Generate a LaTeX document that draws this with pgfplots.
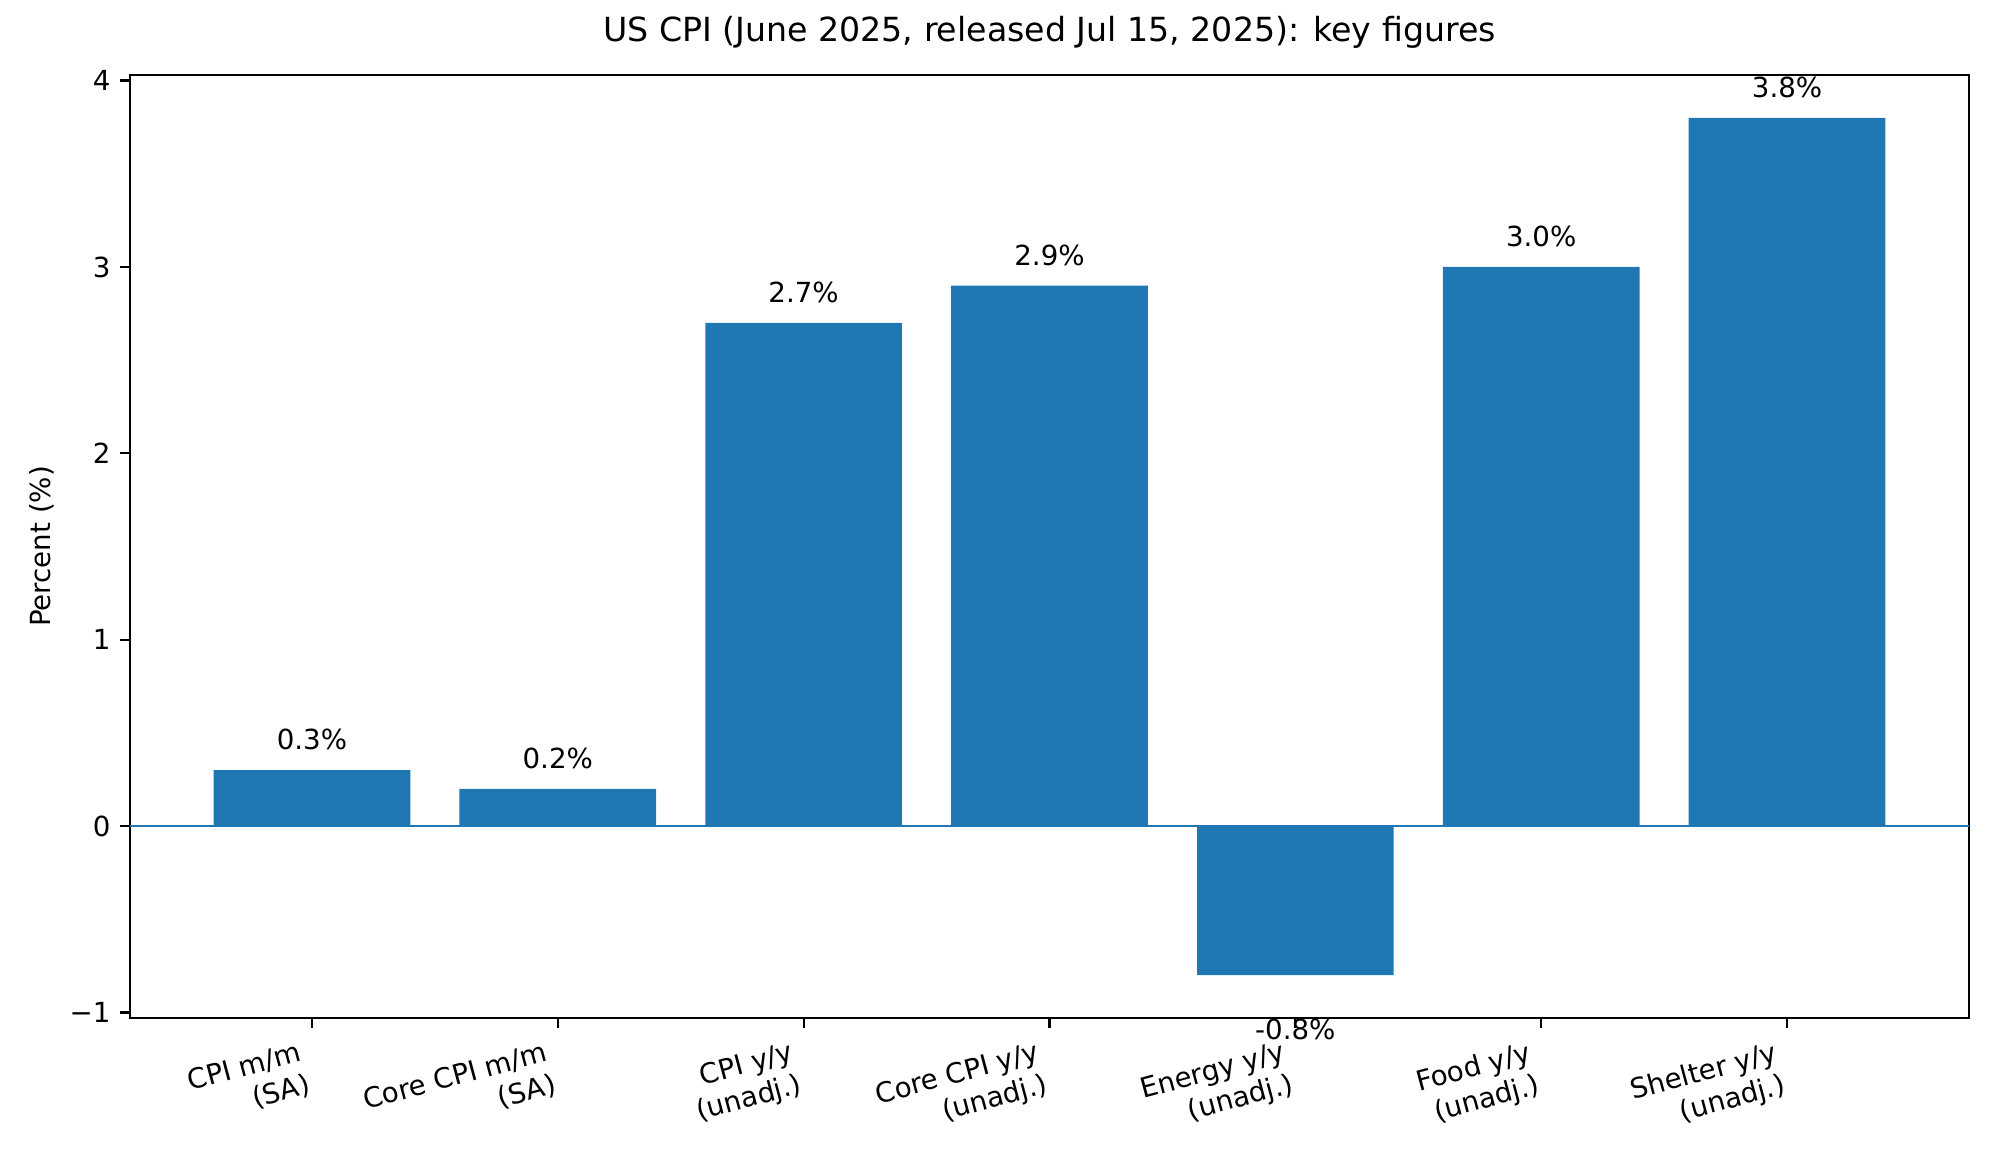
\documentclass[border=0pt]{standalone}
\usepackage{fontspec}
\setmainfont{DejaVu Sans}
\usepackage{pgfplots}
\pgfplotsset{compat=1.18}
\definecolor{C0}{RGB}{31,119,180}
\begin{document}
\fontsize{10}{12}\selectfont
\begin{tikzpicture}
\path[use as bounding box] (0,0) rectangle (10in,5.8in);
\begin{axis}[
  at={(0.65in,0.71in)}, anchor=south west,
  scale only axis, width=9.195in, height=4.715in,
  xmin=-0.74, xmax=6.74, ymin=-1.03, ymax=4.03,
  axis line style={line width=0.8pt},
  tick align=outside, tick pos=left,
  major tick length=3.5pt,
  every tick/.style={black, line width=0.8pt},
  ytick={-1,0,1,2,3,4},
  yticklabels={−1,0,1,2,3,4},
  xtick={0,1,2,3,4,5,6},
  xticklabels={{CPI m/m\\(SA)},{Core CPI m/m\\(SA)},{CPI y/y\\(unadj.)},{Core CPI y/y\\(unadj.)},{Energy y/y\\(unadj.)},{Food y/y\\(unadj.)},{Shelter y/y\\(unadj.)}},
  ticklabel style={font=\fontsize{10}{12}\selectfont},
  xticklabel style={anchor=north east, align=right, xshift=-5pt, yshift=-4.5pt, rotate=15, inner sep=0pt},
  title={US CPI (June 2025, released Jul 15, 2025): key figures},
  title style={font=\fontsize{12}{14.4}\selectfont, at={(axis description cs:0.5,1)}, anchor=base, yshift=6pt, inner sep=0pt},
  ylabel={Percent (\%)},
  ylabel style={font=\fontsize{10}{12}\selectfont, at={(axis description cs:-0.0479,0.5)}, anchor=center},
  clip=false,
]
\addplot[ybar, bar width=0.8, fill=C0, draw=none] coordinates {
(0,0.3) (1,0.2) (2,2.7) (3,2.9) (4,-0.8) (5,3.0) (6,3.8)};
\addplot[C0, line width=1pt] coordinates {(-0.74,0) (6.74,0)};
\addplot[draw=none, nodes near coords, point meta=explicit symbolic,
  every node near coord/.style={anchor=south, inner sep=0pt, yshift=7pt, font=\fontsize{10}{12}\selectfont}]
 coordinates {(0,0.3)[0.3\%] (1,0.2)[0.2\%] (2,2.7)[2.7\%] (3,2.9)[2.9\%] (5,3.0)[3.0\%] (6,3.8)[3.8\%]};
\addplot[draw=none, nodes near coords, point meta=explicit symbolic,
  every node near coord/.style={anchor=north, inner sep=0pt, yshift=-15.8pt, font=\fontsize{10}{12}\selectfont}]
 coordinates {(4,-0.8)[-0.8\%]};
\end{axis}
\end{tikzpicture}
\end{document}
